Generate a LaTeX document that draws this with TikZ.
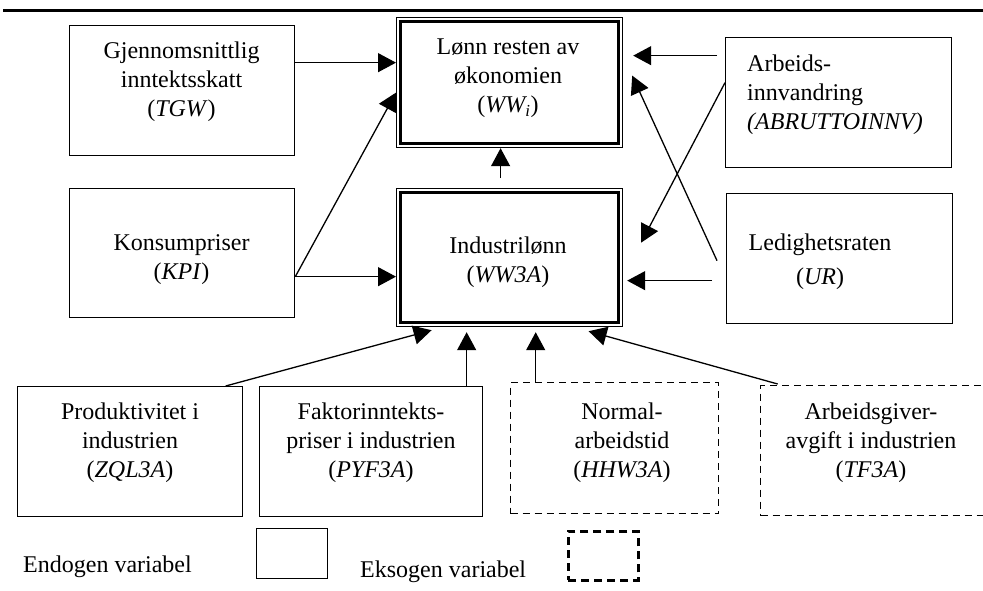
\documentclass[tikz,border=0pt]{standalone}
\usepackage{fontspec}
\setmainfont{Liberation Serif}
\usetikzlibrary{arrows.meta}
\begin{document}
\begin{tikzpicture}[x=1pt,y=-1pt,
  every node/.style={font=\fontsize{24pt}{29pt}\selectfont},
  box/.style={draw, line width=1.3pt, inner sep=0pt, anchor=north west},
  dbox/.style={draw, line width=1.2pt, inner sep=0pt, anchor=north west},
  ebox/.style={draw, dash pattern=on 7pt off 5pt, line width=1.4pt, inner sep=0pt, anchor=north west},
  lbox/.style={draw, dash pattern=on 8pt off 5pt, line width=2.8pt, inner sep=0pt, anchor=north west},
  txt/.style={align=center, inner sep=0pt},
  arr/.style={-{Triangle[length=18pt,width=19pt]}, line width=1.3pt},
  inner/.style={line width=2.5pt},
]
\useasboundingbox (0,0) rectangle (983,590);
\draw[line width=3pt] (3,10) -- (983,10);

% boxes
\node[box, minimum width=225pt, minimum height=130pt] (tgw) at (69,25) {};
\node[dbox, minimum width=226pt, minimum height=130pt] (wwi) at (396,17) {};
\node[box, minimum width=226pt, minimum height=130pt] (abr) at (725,37) {};
\node[box, minimum width=225pt, minimum height=129pt] (kpi) at (69,188) {};
\node[dbox, minimum width=226pt, minimum height=138pt] (ww3a) at (396,188) {};
\node[box, minimum width=226pt, minimum height=130pt] (ur) at (726,193) {};
\node[box, minimum width=225pt, minimum height=130pt] (zql) at (17,386) {};
\node[box, minimum width=223pt, minimum height=130pt] (pyf) at (259,386) {};
\node[ebox, minimum width=208pt, minimum height=131pt] (hhw) at (510,382) {};
\node[ebox, minimum width=225pt, minimum height=130pt] (tf) at (760,385) {};

\draw[inner] ([shift={(4.5pt,-4.5pt)}]wwi.north west) rectangle ([shift={(-4.5pt,4.5pt)}]wwi.south east);
\draw[inner] ([shift={(4.5pt,-4.5pt)}]ww3a.north west) rectangle ([shift={(-4.5pt,4.5pt)}]ww3a.south east);

% texts
\node[txt] (tgwt) at (181.5,82) {Gjennomsnittlig\\inntektsskatt\\(\textit{TGW})};
\node[txt] (wwit) at (508,78) {Lønn resten av\\økonomien\\(\textit{WW\textsubscript{i}})};
\node[txt, align=left, anchor=west] (abrt) at (747,95) {Arbeids-\\innvandring\\\textit{(ABRUTTOINNV)}};
\node[txt] (kpit) at (181.5,260) {Konsumpriser\\(\textit{KPI})};
\node[txt] (ww3at) at (508,262) {Industrilønn\\(\textit{WW3A})};
\node[txt] (urt) at (820,262) {Ledighetsraten\\[5pt](\textit{UR})};
\node[txt] (zqlt) at (130,443) {Produktivitet i\\industrien\\(\textit{ZQL3A})};
\node[txt] (pyft) at (371,443) {Faktorinntekts-\\priser i industrien\\(\textit{PYF3A})};
\node[txt] (hhwt) at (622,443) {Normal-\\arbeidstid\\(\textit{HHW3A})};
\node[txt] (tft) at (871,443) {Arbeidsgiver-\\avgift i industrien\\(\textit{TF3A})};

% connectors
\draw[arr] ([yshift=28pt]tgw.east) -- ([yshift=28pt]tgw.east -| wwi.west);
\draw[arr] ([yshift=-23.5pt]kpi.east) -- ([yshift=-23.5pt]kpi.east -| ww3a.west);
\draw[arr] ([yshift=-23.5pt]kpi.east) -- ([yshift=-10pt]wwi.west);
\draw[arr] ([xshift=-9pt,yshift=10pt]ww3a.north) -- ([xshift=-9pt]ww3a.north |- wwi.south);
\draw[arr] ([xshift=-8pt,yshift=47pt]abr.west) -- ([xshift=10pt,yshift=47pt]abr.west -| wwi.east);
\draw[arr] ([yshift=20pt]abr.west) -- ([xshift=18pt,yshift=15pt]ww3a.east);
\draw[arr] ([xshift=-9pt,yshift=-2pt]ur.west) -- ([xshift=9pt,yshift=7pt]wwi.east);
\draw[arr] ([xshift=-14pt,yshift=-22pt]ur.west) -- ([xshift=4pt,yshift=-22pt]ur.west -| ww3a.east);
\draw[arr] ([xshift=95.5pt]zql.north) -- ([xshift=-78pt,yshift=-3pt]ww3a.south);
\draw[arr] ([xshift=95.5pt]pyf.north) -- ([xshift=95.5pt,yshift=-5pt]pyf.north |- ww3a.south);
\draw[arr] ([xshift=-79pt]hhw.north) -- ([xshift=-79pt,yshift=-5pt]hhw.north |- ww3a.south);
\draw[arr] ([xshift=-95.5pt,yshift=1pt]tf.north) -- ([xshift=79pt,yshift=-4pt]ww3a.south);

% legend
\node[anchor=base west, inner sep=0pt] (endo) at (23,572) {Endogen variabel};
\node[box, minimum width=71pt, minimum height=50pt] (endobox) at (256,528) {};
\node[anchor=base west, inner sep=0pt] (ekso) at (360,577) {Eksogen variabel};
\node[lbox, minimum width=70pt, minimum height=49pt] (eksobox) at (567,530) {};
\end{tikzpicture}
\end{document}
